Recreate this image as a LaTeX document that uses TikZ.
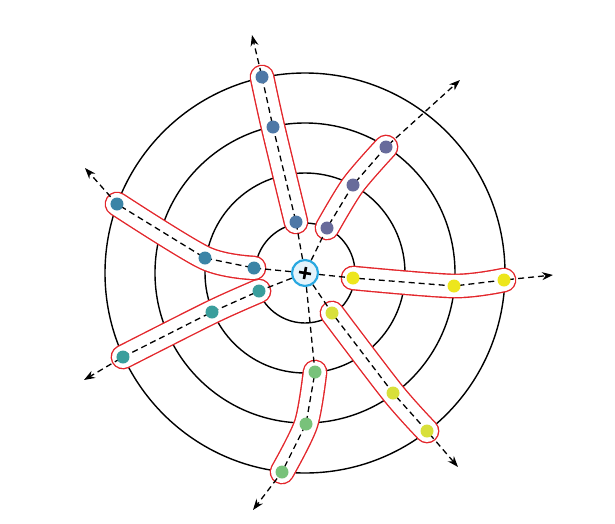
\documentclass[tikz,border=0pt]{standalone}
\usetikzlibrary{arrows.meta,backgrounds}
\definecolor{capred}{HTML}{E3262B}
\definecolor{hubline}{HTML}{29A8E0}
\definecolor{hubfill}{HTML}{E4F3FB}
\definecolor{c1}{HTML}{4E78A6}
\definecolor{c2}{HTML}{686B9B}
\definecolor{c3}{HTML}{EDE61C}
\definecolor{c4}{HTML}{D8E03A}
\definecolor{c5}{HTML}{78C27A}
\definecolor{c6}{HTML}{3A9E9C}
\definecolor{c7}{HTML}{3B84A6}
\tikzset{>=Stealth,ring/.style={line width=1.4pt},ray/.style={line width=1.3pt,dash pattern=on 6pt off 4pt,-{Stealth[length=11pt,width=8pt]}},arm/.style={draw=capred,line width=1.4pt,double=white,double distance=22pt,line cap=round,line join=round},dot/.style={circle,inner sep=0pt,minimum size=13pt},hub/.style={circle,draw=hubline,fill=hubfill,line width=2.2pt,minimum size=26pt,inner sep=0pt}}
\begin{document}
\begin{tikzpicture}[x=1pt,y=1pt]
\useasboundingbox (-305,-250) rectangle (310,273);
\node[hub] (o) at (0,0) {};
\draw[line width=2.6pt] (-6,1)--(6,-1) (-1,-6)--(1,6);
% dots of each arm, from the inside out, and the tip of its ray
\foreach \a/\c/\xa/\ya/\xb/\yb/\xc/\yc/\xt/\yt in {1/c1/-9/51/-32/146/-43/196/-53/238,2/c2/22/45/48/88/81/126/155/193,3/c3/48/-5/149/-13/199/-7/248/-2,4/c4/27/-40/88/-120/122/-158/153/-194,5/c5/10/-99/1/-151/-23/-199/-52/-237,6/c6/-46/-18/-93/-39/-182/-84/-221/-107,7/c7/-51/5/-100/15/-188/69/-220/105}{
\node[dot,fill=\c] (p\a1) at (\xa,\ya) {};\node[dot,fill=\c] (p\a2) at (\xb,\yb) {};\node[dot,fill=\c] (p\a3) at (\xc,\yc) {};
\coordinate (t\a) at (\xt,\yt);}
\begin{scope}[on background layer]
\foreach \r in {50,100,150,200}{\draw[ring] (o.center) circle (\r pt);}
\foreach \a in {1,...,7}{\draw[arm] plot[smooth] coordinates {(p\a1.center) (p\a2.center) (p\a3.center)};}
\foreach \a in {1,...,7}{\draw[ray] (o) -- (p\a1.center) -- (p\a2.center) -- (p\a3.center) -- (t\a);}
\end{scope}
\end{tikzpicture}
\end{document}
